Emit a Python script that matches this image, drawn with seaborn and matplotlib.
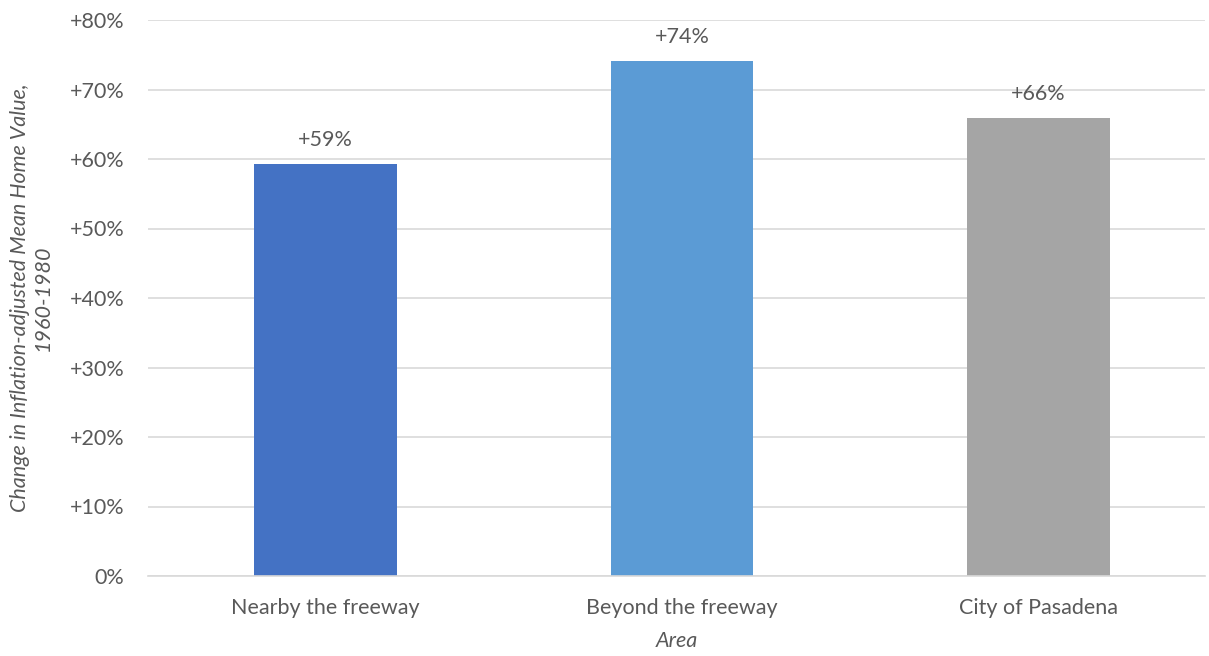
import matplotlib
matplotlib.use("Agg")
import matplotlib.pyplot as plt
import seaborn as sns
import pandas as pd
from matplotlib.ticker import FuncFormatter

categories = ["Nearby the freeway", "Beyond the freeway", "City of Pasadena"]
values = [59.3, 74.1, 65.9]
labels = ["+59%", "+74%", "+66%"]
colors = ["#4472C4", "#5B9BD5", "#A5A5A5"]

sns.set_theme(style="white")
plt.rcParams['font.family'] = ['Lato', 'DejaVu Sans']
txt = "#595959"
fs = 15.5

df = pd.DataFrame({"Area": categories, "Value": values})

fig = plt.figure(figsize=(12.09, 6.56), dpi=100)
ax = fig.add_axes([148/1209, 80/656, (1205-148)/1209, (576-20)/656])

sns.barplot(data=df, x="Area", y="Value", hue="Area", palette=colors,
            width=0.4, legend=False, ax=ax, saturation=1, linewidth=0)

ax.set_ylim(0, 80)
ax.set_xlim(-0.498, 2.467)
ax.set_yticks(range(0, 81, 10))
ax.yaxis.set_major_formatter(FuncFormatter(lambda v, p: "0%" if v == 0 else f"+{int(v)}%"))
ax.grid(axis="y", color="#D9D9D9", linewidth=1.2)
ax.set_axisbelow(True)
for s in ["top", "right", "left"]:
    ax.spines[s].set_visible(False)
ax.spines["bottom"].set_color("#D9D9D9")
ax.spines["bottom"].set_linewidth(1.2)
ax.tick_params(axis="both", length=0, colors=txt, labelsize=fs)
ax.tick_params(axis="y", pad=17)
ax.tick_params(axis="x", pad=16)

for i, (v, l) in enumerate(zip(values, labels)):
    ax.annotate(l, (i, v), xytext=(0, 10), textcoords="offset points",
                ha="center", va="bottom", color=txt, fontsize=fs)

ax.set_xlabel("Area", style="italic", color=txt, fontsize=fs, labelpad=9)
ax.set_ylabel("Change in Inflation-adjusted Mean Home Value,\n1960-1980",
              style="italic", color=txt, fontsize=fs, labelpad=12)

fig.savefig("out.png", dpi=100)
